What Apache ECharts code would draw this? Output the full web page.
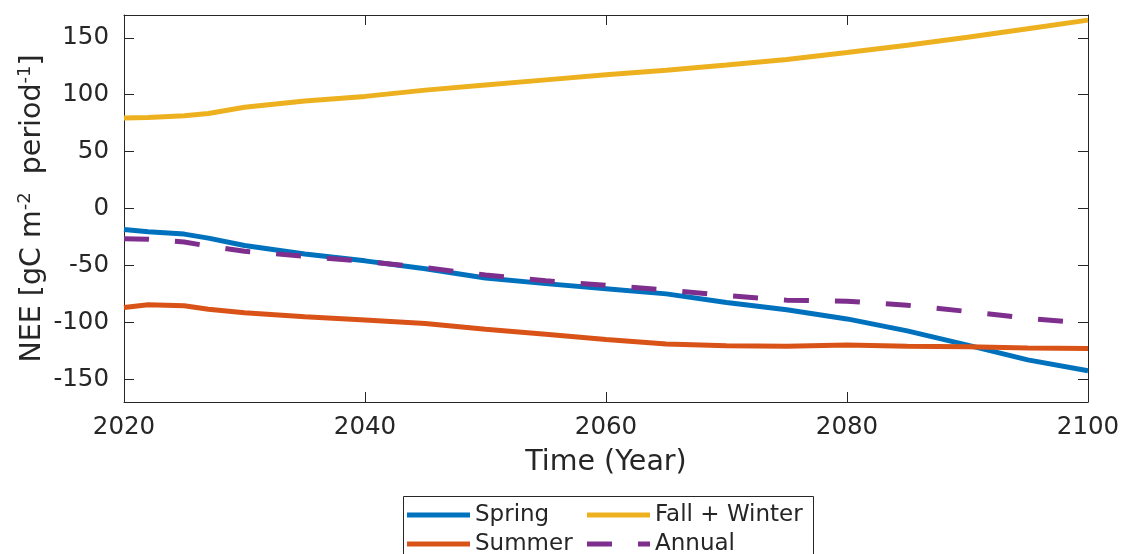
<!DOCTYPE html>
<html>
<head>
<meta charset="utf-8">
<script src="https://cdn.jsdelivr.net/npm/echarts@6/dist/echarts.min.js"></script>
<style>
html,body{margin:0;padding:0;background:#fff;}
#chart{width:1123px;height:554px;}
</style>
</head>
<body>
<div id="chart"></div>
<script>
const years = [2020, 2022, 2025, 2027, 2030, 2035, 2040, 2045, 2050, 2055, 2060, 2065, 2070, 2075, 2080, 2085, 2090, 2095, 2100];
const spring = [-18.5, -20.5, -22.5, -26, -32.5, -40, -46, -53, -61, -66, -70.5, -75, -82.5, -89, -97, -107.5, -120, -133, -142.5];
const summer = [-87, -84.5, -85.5, -88.5, -91.5, -95, -98, -101, -106, -110.5, -115, -119, -120.5, -121, -120, -121, -121.5, -122.5, -123];
const fallWinter = [79.5, 80, 81.5, 83.5, 89, 94.5, 98.5, 104, 108.5, 113, 117.5, 121.5, 126, 131, 137, 143.5, 150.5, 158, 165.5];
const annual = [-26.5, -27, -29.5, -33, -37.5, -42, -46.5, -52, -58.5, -63.5, -67.5, -71.5, -76.5, -80.5, -81.5, -85, -90.5, -96.5, -101];
const yTicks = [-150, -100, -50, 0, 50, 100, 150];
const xTicks = [2020, 2040, 2060, 2080, 2100];
const seriesNames = ['Spring', 'Summer', 'Fall + Winter', 'Annual'];

const FONT = 'DejaVu Sans';
const INK = '#262626';
const colors = ['#0072BD', '#D95319', '#EDB120', '#7E2F8E'];
const solidIcon = 'path://M0,0H63V5H0Z';
const dashIcon = 'path://M0,0H25V5H0Z M51,0H63V5H51Z';

function pairs(vals) { return years.map((y, i) => [y, vals[i]]); }

const chart = echarts.init(document.getElementById('chart'));
const xBase = {
  type: 'value', min: xTicks[0], max: xTicks[xTicks.length - 1], interval: 20,
  axisLine: { show: true, onZero: false, lineStyle: { color: INK, width: 1 } },
  axisTick: { show: true, inside: true, length: 10, lineStyle: { color: INK } },
  splitLine: { show: false }
};
const yBase = {
  type: 'value', min: -170, max: 170,
  axisLine: { show: true, onZero: false, lineStyle: { color: INK, width: 1 } },
  axisTick: { show: true, inside: true, length: 10, customValues: yTicks, lineStyle: { color: INK } },
  splitLine: { show: false }
};
const vals = [spring, summer, fallWinter, annual];
const legendBase = {
  orient: 'vertical', top: 503, height: 80,
  padding: 0, itemWidth: 63, itemHeight: 5, itemGap: 5,
  textStyle: { color: INK, fontSize: 23, fontFamily: FONT, lineHeight: 24 }
};
chart.setOption({
  animation: false,
  backgroundColor: '#fff',
  textStyle: { fontFamily: FONT },
  grid: { left: 124, right: 35, top: 15, bottom: 152, containLabel: false, outerBoundsMode: 'none' },
  xAxis: [
    Object.assign({}, xBase, {
      position: 'bottom',
      axisLabel: { show: true, color: INK, fontSize: 24.5, fontFamily: FONT, margin: 13, formatter: v => String(v) },
      name: 'Time (Year)', nameLocation: 'middle', nameGap: 46,
      nameTextStyle: { color: INK, fontSize: 28.5, fontFamily: FONT }
    }),
    Object.assign({}, xBase, { position: 'top', axisLabel: { show: false } })
  ],
  yAxis: [
    Object.assign({}, yBase, {
      position: 'left',
      axisLabel: { show: true, customValues: yTicks, color: INK, fontSize: 24.5, fontFamily: FONT, margin: 15, formatter: v => String(v) },
      name: 'NEE [gC m{sup|-2}  period{sup|-1}]', nameLocation: 'middle', nameGap: 75, nameRotate: 90,
      nameMoveOverlap: false,
      nameTextStyle: {
        color: INK, fontSize: 28.5, fontFamily: FONT, lineHeight: 33, verticalAlign: 'bottom',
        rich: { sup: { fontSize: 18, fontFamily: FONT, color: INK, lineHeight: 15, verticalAlign: 'top' } }
      }
    }),
    Object.assign({}, yBase, { position: 'right', axisLabel: { show: false } })
  ],
  legend: [
    Object.assign({}, legendBase, {
      left: 407,
      data: [{ name: seriesNames[0], icon: solidIcon }, { name: seriesNames[1], icon: solidIcon }]
    }),
    Object.assign({}, legendBase, {
      left: 587,
      data: [{ name: seriesNames[2], icon: solidIcon }, { name: seriesNames[3], icon: dashIcon }]
    })
  ],
  graphic: [{
    type: 'rect', left: 403, top: 496, silent: true,
    shape: { width: 410, height: 80 },
    style: { fill: 'transparent', stroke: INK, lineWidth: 1 }
  }],
  series: seriesNames.map((n, i) => ({
    name: n, type: 'line', data: pairs(vals[i]),
    symbol: 'none', showSymbol: false,
    lineStyle: { color: colors[i], width: 5, type: i === 3 ? [25, 26] : 'solid' },
    itemStyle: { color: colors[i] },
    z: 2 + i
  }))
});
</script>
</body>
</html>
